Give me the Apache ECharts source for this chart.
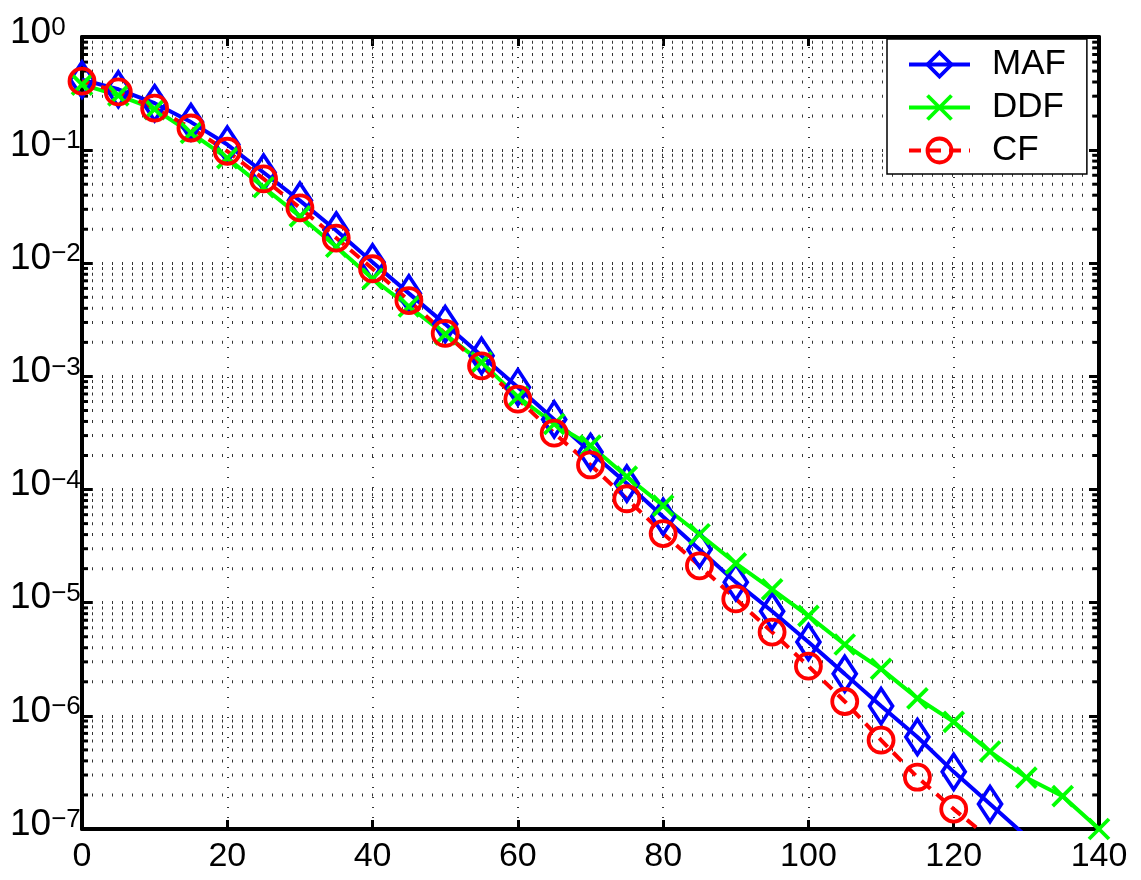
<!DOCTYPE html>
<html>
<head>
<meta charset="utf-8">
<script src="https://cdn.jsdelivr.net/npm/echarts@6/dist/echarts.min.js"></script>
<style>html,body{margin:0;padding:0;background:#fff;}#c{width:1141px;height:880px;}</style>
</head>
<body>
<div id="c"></div>
<script>
const FONT = '"Liberation Sans", Arial, Helvetica, sans-serif';

const xVals = [0,5,10,15,20,25,30,35,40,45,50,55,60,65,70,75,80,85,90,95,100,105,110,115,120,125,130,135,140];

const mafVals = [0.42,0.345,0.26,0.177,0.112,0.0634,0.0358,0.0195,0.0102,0.00542,0.0029,0.00152,0.000803,0.000417,0.000215,1.13e-4,5.75e-5,2.95e-5,1.52e-5,8.4e-6,4.5e-6,2.35e-6,1.22e-6,6.5e-7,3.2e-7,1.66e-7,8.6e-8];

const ddfVals = [0.38,0.305,0.23,0.142,0.085,0.047,0.026,0.014,0.0073,0.00415,0.00235,0.00133,0.00066,0.00038,0.000245,1.3e-4,7.2e-5,4.03e-5,2.23e-5,1.31e-5,7.65e-6,4.27e-6,2.6e-6,1.43e-6,8.85e-7,4.84e-7,2.84e-7,1.95e-7,1.0e-7];

const cfVals = [0.407,0.327,0.235,0.157,0.0978,0.0557,0.0309,0.0167,0.00895,0.00468,0.0024,0.00124,0.00063,0.000315,1.65e-4,8.3e-5,4.08e-5,2.12e-5,1.08e-5,5.5e-6,2.75e-6,1.34e-6,6.1e-7,2.87e-7,1.5e-7,8.2e-8];

const seriesNames = ['MAF','DDF','CF'];

// minor log grid positions (2..9 x 10^k)
const minorGrid = [];
for (let k = -7; k <= -1; k++) {
  for (let m = 2; m <= 9; m++) minorGrid.push(m * Math.pow(10, k));
}

function pairs(vals) { return vals.map((v, i) => [xVals[i], v]); }

const chart = echarts.init(document.getElementById('c'), null, {renderer: 'canvas'});

const axisLineStyle = {color: '#000', width: 4};
const LW = 4;
const MW = 3.8;

chart.setOption({
  animation: false,
  backgroundColor: '#fff',
  grid: {left: 82, top: 27, right: 42, bottom: 51, containLabel: false},
  legend: {
    data: seriesNames,
    orient: 'vertical',
    left: 887, top: 39,
    itemWidth: 61, itemHeight: 30, itemGap: 8,
    padding: [8, 21, 6, 20],
    backgroundColor: '#fff',
    borderColor: '#000', borderWidth: 1.5,
    selectedMode: false,
    lineStyle: {width: LW},
    itemStyle: {borderWidth: MW},
    textStyle: {fontSize: 35, color: '#000', fontFamily: FONT, padding: [0, 0, 0, 17]}
  },
  xAxis: [{
    type: 'value', min: 0, max: 140, interval: 20, position: 'bottom',
    axisLine: {show: true, onZero: false, lineStyle: axisLineStyle},
    axisTick: {show: true, inside: true, length: 9, lineStyle: {color: '#000', width: 3}},
    axisLabel: {fontSize: 34, color: '#000', fontFamily: FONT, margin: 11},
    splitLine: {show: true, lineStyle: {color: '#333', width: 2, type: [1, 9]}}
  }, {
    type: 'value', min: 0, max: 140, interval: 20, position: 'top',
    axisLine: {show: true, onZero: false, lineStyle: axisLineStyle},
    axisTick: {show: true, inside: true, length: 9, lineStyle: {color: '#000', width: 3}},
    axisLabel: {show: false},
    splitLine: {show: false}
  }],
  yAxis: [{
    type: 'log', logBase: 10, min: 1e-7, max: 1, position: 'left',
    axisLine: {show: true, onZero: false, lineStyle: axisLineStyle},
    axisTick: {show: true, inside: true, length: 10, lineStyle: {color: '#000', width: 3}},
    axisLabel: {
      margin: 72, align: 'left', color: '#000', fontFamily: FONT,
      padding: [0, 0, 8, 0],
      formatter: function (v) {
        const e = Math.round(Math.log10(v));
        return '{b|10}{s|' + (e < 0 ? '\u2212' + (-e) : e) + '}';
      },
      rich: {
        b: {fontSize: 37, lineHeight: 36, fontFamily: FONT, color: '#000', padding: [14, 0, 0, 0], verticalAlign: 'bottom'},
        s: {fontSize: 26, lineHeight: 26, fontFamily: FONT, color: '#000', verticalAlign: 'top'}
      }
    },
    splitLine: {show: true, lineStyle: {color: '#333', width: 3, type: [1, 9]}}
  }, {
    type: 'log', logBase: 10, min: 1e-7, max: 1, position: 'right',
    axisLine: {show: true, onZero: false, lineStyle: axisLineStyle},
    axisTick: {show: true, inside: true, length: 10, lineStyle: {color: '#000', width: 3}},
    axisLabel: {show: false},
    splitLine: {show: false}
  }],
  series: [{
    type: 'custom',
    name: 'minorGrid',
    xAxisIndex: 0, yAxisIndex: 0,
    z: 1, silent: true,
    data: minorGrid.map(v => [0, v]),
    encode: {x: 0, y: 1},
    renderItem: function (params, api) {
      const cs = params.coordSys;
      const y = api.coord([0, api.value(1)])[1];
      const x0 = cs.x, x1 = cs.x + cs.width;
      return {
        type: 'group',
        children: [
          {type: 'line', shape: {x1: x0, y1: y, x2: x1, y2: y}, style: {stroke: '#333', lineWidth: 3, lineDash: [1, 9]}},
          {type: 'line', shape: {x1: x0, y1: y, x2: x0 + 6, y2: y}, style: {stroke: '#000', lineWidth: 3}},
          {type: 'line', shape: {x1: x1 - 6, y1: y, x2: x1, y2: y}, style: {stroke: '#000', lineWidth: 3}}
        ]
      };
    }
  }, {
    name: 'MAF', type: 'line', data: pairs(mafVals),
    symbol: 'diamond', symbolSize: [23, 35],
    lineStyle: {color: '#0000ff', width: LW},
    itemStyle: {color: 'rgba(0,0,0,0)', borderColor: '#0000ff', borderWidth: MW},
    z: 3
  }, {
    name: 'DDF', type: 'line', data: pairs(ddfVals),
    symbol: 'path://M0,0L10,10M10,0L0,10', symbolSize: 20,
    lineStyle: {color: '#00ff00', width: LW},
    itemStyle: {color: 'rgba(0,0,0,0)', borderColor: '#00ff00', borderWidth: MW},
    z: 3
  }, {
    name: 'CF', type: 'line', data: pairs(cfVals),
    symbol: 'circle', symbolSize: 25,
    lineStyle: {color: '#ff0000', width: LW, type: [12, 8]},
    itemStyle: {color: 'rgba(0,0,0,0)', borderColor: '#ff0000', borderWidth: MW},
    z: 3
  }]
});
</script>
</body>
</html>
